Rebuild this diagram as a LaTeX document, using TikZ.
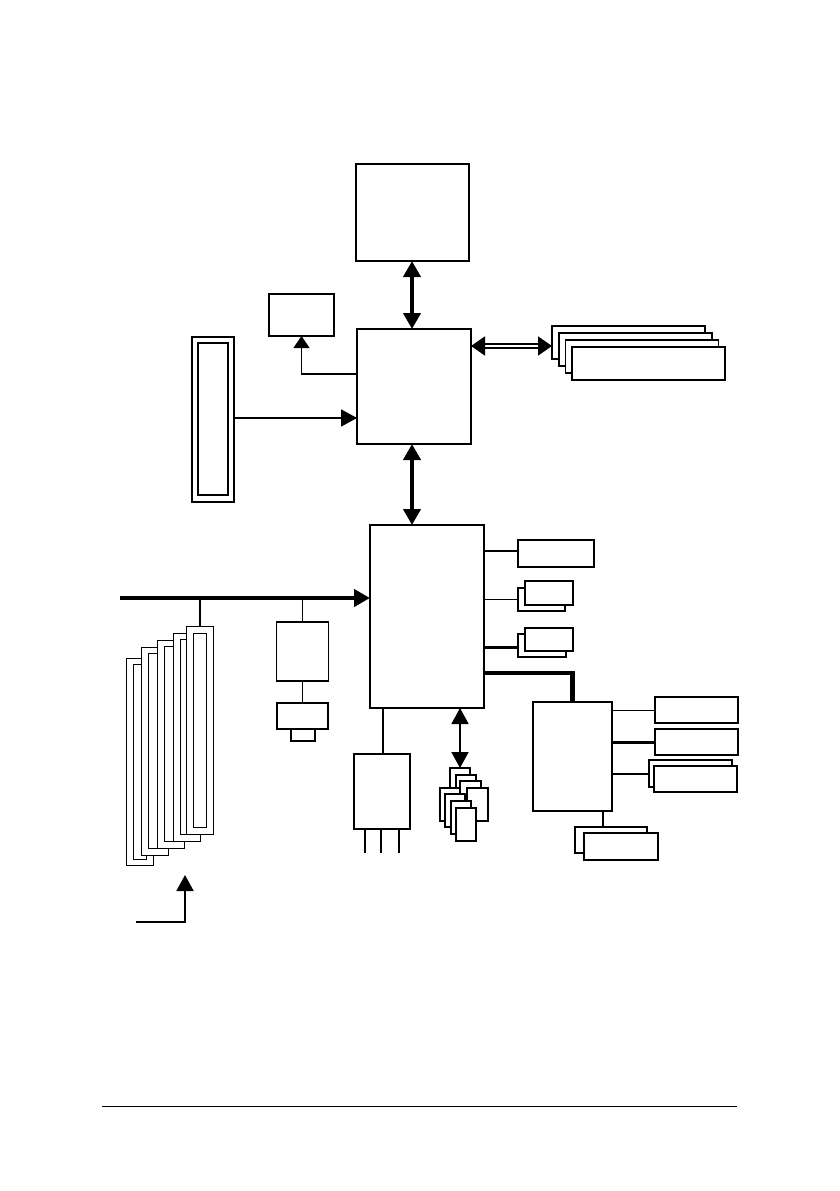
\documentclass[tikz,border=0pt]{standalone}
\usetikzlibrary{arrows.meta}
\begin{document}
\begin{tikzpicture}[x=1pt,y=-1pt,line join=miter,
  thickbox/.style={draw, line width=2pt, fill=white, inner sep=0pt, outer sep=0pt},
  thinbox/.style={draw, line width=1.2pt, fill=white, inner sep=0pt, outer sep=0pt},
  onetip/.style={-{Triangle[length=16pt,width=17pt]}},
  twotips/.style={{Triangle[length=16pt,width=17pt]}-{Triangle[length=16pt,width=17pt]}},
  dbl/.style={double, line width=1.6pt, double distance=2.2pt,
    {Triangle[length=14pt,width=19pt]}-{Triangle[length=14pt,width=19pt]}},
]
\useasboundingbox[fill=white] (0,0) rectangle (839,1191);
\newcommand\bx[6]{\node[#1, minimum width=#4pt, minimum height=#5pt] (#6) at (#2,#3) {};}

% CPU and north bridge
\bx{thickbox}{412.5}{212.5}{113}{97}{cpu}
\bx{thickbox}{414}{386.5}{114}{115}{nb}
\bx{thinbox}{301.5}{315}{65}{42}{clk}
% AGP slot
\bx{thinbox}{213}{419.5}{42}{165}{agp}
\bx{thinbox}{213}{419}{30}{152}{agpin}
% memory
\bx{thinbox}{628.5}{342.5}{153}{33}{mA}
\bx{thinbox}{635.5}{349.5}{153}{33}{mB}
\bx{thinbox}{642}{356.5}{153}{33}{mC}
\bx{thinbox}{648.5}{363.5}{153}{33}{mD}

\draw[line width=4pt, twotips] (cpu.south -| 412,0) -- (nb.north -| 412,0);
\draw[line width=1.3pt, -{Triangle[length=12pt,width=16pt]}] (nb.west |- 0,374) -| (clk.south);
\draw[line width=1.7pt, onetip] (agp.east |- 0,418) -- (nb.west |- 0,418);
\draw[dbl] (nb.east |- 0,346) -- (mA.west |- 0,346);

% south bridge
\bx{thickbox}{427}{616.5}{114}{183}{sb}
\draw[line width=4pt, twotips] (nb.south -| 412,0) -- (sb.north -| 412,0);

\bx{thinbox}{556}{553.5}{76}{27}{bA}
\bx{thinbox}{541.5}{599.5}{47}{23}{bBb}
\bx{thinbox}{549}{593}{48}{24}{bBf}
\bx{thinbox}{542}{645.5}{48}{23}{bCb}
\bx{thinbox}{549}{639.5}{48}{23}{bCf}
\draw[line width=1.7pt] (sb.east |- 0,551) -- (bA.west |- 0,551);
\draw[line width=1.7pt] (sb.east |- bBb.west) -- (bBb.west);
\draw[line width=3pt] (sb.east |- 0,647) -- (bCb.west |- 0,647);

% LPC / super I/O branch
\bx{thinbox}{572.5}{756.5}{79}{109}{lpc}
\draw[line width=4.2pt] (sb.east |- 0,673) -| (lpc.north);
\bx{thinbox}{696.5}{710}{83}{26}{rA}
\bx{thinbox}{696.5}{742}{83}{26}{rB}
\bx{thinbox}{690.5}{773.5}{83}{27}{rCb}
\bx{thinbox}{695.5}{779}{83}{26}{rCf}
\bx{thinbox}{611}{840}{72}{26}{rDb}
\bx{thinbox}{621}{846.5}{74}{27}{rDf}
\draw[line width=1pt] (lpc.east |- rA.west) -- (rA.west);
\draw[line width=3pt] (lpc.east |- rB.west) -- (rB.west);
\draw[line width=2pt] (lpc.east |- rCb.west) -- (rCb.west);
\draw[line width=2pt] (lpc.south -| 603,0) -- (rDb.north -| 603,0);

% PCI bus
\coordinate (busL) at (120,598);
\draw[line width=4.7pt, onetip] (busL) -- (sb.west |- busL);

% PCI slots
\bx{thinbox}{139.8}{761.8}{27}{207}{sO0}
\bx{thinbox}{140}{761.8}{13}{195}{sI0}
\bx{thinbox}{154.8}{751.3}{27}{208}{sO1}
\bx{thinbox}{155}{751.3}{13}{195}{sI1}
\bx{thinbox}{171.3}{744.3}{27}{208}{sO2}
\bx{thinbox}{171}{744.3}{13}{195}{sI2}
\bx{thinbox}{186.8}{737.3}{27}{208}{sO3}
\bx{thinbox}{187}{737.3}{13}{195}{sI3}
\bx{thinbox}{199.8}{730.2}{27}{208}{sO4}
\bx{thinbox}{199.8}{730.2}{13}{194}{sI4}
\draw[line width=1.7pt] (sO4.north) -- (sO4.north |- busL);

% LAN
\bx{thinbox}{302.5}{651.5}{52}{59}{lan}
\bx{thinbox}{302.5}{716}{51}{26}{phy}
\bx{thinbox}{303}{735}{24}{12}{rj}
\draw[line width=1.7pt] (lan.north) -- (lan.north |- busL);
\draw[line width=1.7pt] (lan.south) -- (phy.north);

% I/O chip with legs
\bx{thinbox}{382}{791.5}{56}{75}{sio}
\draw[line width=1.7pt] (sb.south -| 383,0) -- (sio.north -| 383,0);
\coordinate (legA) at (365,853);
\coordinate (legB) at (381,853);
\coordinate (legC) at (399,853);
\draw[line width=1.7pt] (sio.south -| legA) -- (legA);
\draw[line width=1.7pt] (sio.south -| legB) -- (legB);
\draw[line width=1.7pt] (sio.south -| legC) -- (legC);

% cards
\bx{thinbox}{460}{784.5}{20}{33}{cA}
\bx{thinbox}{466}{791.5}{20}{33}{cB}
\bx{thinbox}{470.5}{797.5}{21}{33}{cC}
\bx{thinbox}{477.5}{804.5}{21}{33}{cD}
\bx{thinbox}{450}{804.5}{20}{33}{cE}
\bx{thinbox}{455}{810.5}{20}{33}{cF}
\bx{thinbox}{461}{817.5}{20}{33}{cG}
\bx{thinbox}{466}{824.5}{20}{33}{cH}
\draw[line width=1.7pt, twotips] (sb.south -| 460,0) -- (cA.north -| 460,0);

% lower-left arrow
\coordinate (llA) at (136,922);
\coordinate (llB) at (185,875);
\draw[line width=1.7pt, onetip] (llA) -| (llB);

% bottom rule
\draw[line width=1pt] (102,1106) -- (737,1106);
\end{tikzpicture}
\end{document}
